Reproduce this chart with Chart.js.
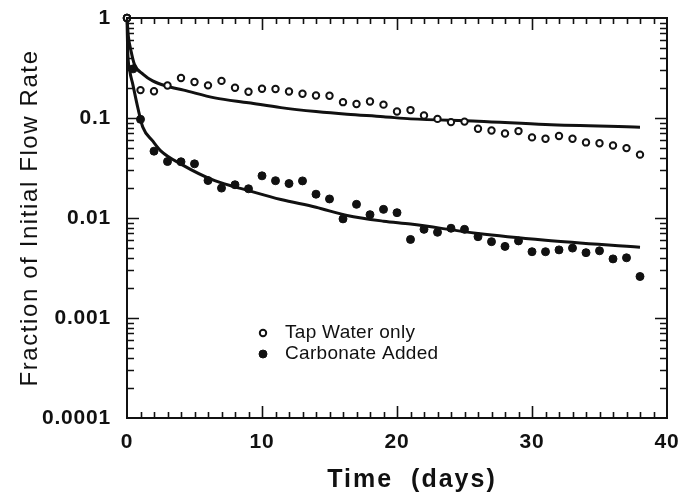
<!DOCTYPE html>
<html><head><meta charset="utf-8">
<script src="https://cdn.jsdelivr.net/npm/chart.js@4.4.1/dist/chart.umd.min.js"></script>
<style>html,body{margin:0;padding:0;background:#fff;overflow:hidden}#wrap{width:691px;height:493px}</style>
</head><body><div id="wrap"><canvas id="c" width="691" height="493"></canvas></div>
<script>
// ---- data ----
const tapDays = [0,1,2,3,4,5,6,7,8,9,10,11,12,13,14,15,16,17,18,19,20,21,22,23,24,25,26,27,28,29,30,31,32,33,34,35,36,37,38];
const tapValues = [1.0,0.190,0.185,0.211,0.251,0.229,0.212,0.235,0.201,0.183,0.196,0.195,0.184,0.175,0.168,0.167,0.144,0.138,0.146,0.136,0.116,0.120,0.106,0.098,0.091,0.092,0.078,0.075,0.070,0.074,0.064,0.062,0.066,0.062,0.057,0.056,0.053,0.050,0.043];
const carbDays = [0,0.45,1,2,3,4,5,6,7,8,9,10,11,12,13,14,15,16,17,18,19,20,21,22,23,24,25,26,27,28,29,30,31,32,33,34,35,36,37,38];
const carbValues = [1.0,0.31,0.097,0.0466,0.0367,0.0365,0.0348,0.0237,0.0199,0.0215,0.0196,0.0264,0.0236,0.0221,0.0235,0.0173,0.0155,0.0098,0.0137,0.0108,0.0122,0.0113,0.0061,0.0077,0.0072,0.0079,0.0077,0.0065,0.0058,0.0052,0.0059,0.0046,0.0046,0.0048,0.0050,0.0045,0.0047,0.0039,0.0040,0.0026];
const tapFitDays = [0,0.1,0.3,0.55,1.2,1.9,2.9,4.2,6.5,9,11.4,14,16.3,19,21,26,31,38];
const tapFitValues = [1.0,0.66,0.467,0.344,0.273,0.235,0.209,0.190,0.159,0.142,0.127,0.116,0.109,0.103,0.098,0.093,0.086,0.081];
const carbFitDays = [0,0.05,0.2,0.43,0.8,1.17,1.9,2.5,4,6.5,9,11.4,14,16.3,19,21,26,31,38];
const carbFitValues = [1.0,0.48,0.30,0.217,0.127,0.081,0.059,0.047,0.0346,0.0236,0.0188,0.0153,0.0128,0.0106,0.0093,0.0087,0.0070,0.0060,0.0051];
const xTickValues = [0,10,20,30,40];
const xTickLabels = ['0','10','20','30','40'];
const yTickValues = [1,0.1,0.01,0.001,0.0001];
const yTickLabels = ['1','0.1','0.01','0.001','0.0001'];
const seriesNames = ['Tap Water only','Carbonate Added'];
const xTitle = 'Time  (days)';
const yTitle = 'Fraction of Initial Flow Rate';

const INK = '#111';
const FONT = '"Liberation Sans", Arial, Helvetica, sans-serif';
const zip = (xs, ys) => xs.map((x, i) => ({x: x, y: ys[i]}));
const nearestIdx = (arr, v) => { let b = 0; arr.forEach((a, i) => { if (Math.abs(Math.log10(a) - Math.log10(v)) < Math.abs(Math.log10(arr[b]) - Math.log10(v))) b = i; }); return b; };

const textStyle = {
  x: {labels: '0.8px', title: '2px', titleShift: 15},
  y: {labels: '0.8px', title: '1.6px', titleShift: 0}
};
const spacing = {
  id: 'spacing',
  afterUpdate(chart) {
    Object.values(chart.scales).forEach(s => {
      if (s._spaced) return;
      s._spaced = true;
      const st = textStyle[s.id];
      const dt = s.drawTitle, dl = s.drawLabels;
      s.drawTitle = function () {
        const c = this.ctx; c.save();
        c.letterSpacing = st.title; c.translate(st.titleShift, 0);
        dt.apply(this, arguments); c.restore();
      };
      s.drawLabels = function () {
        const c = this.ctx; c.save();
        c.letterSpacing = st.labels;
        dl.apply(this, arguments); c.restore();
      };
    });
  }
};

const frameTicks = {
  id: 'frameTicks',
  afterDatasetsDraw(chart) {
    const {ctx, chartArea: a, scales: {x, y}} = chart;
    ctx.save();
    ctx.strokeStyle = INK;
    ctx.lineWidth = 2;
    ctx.strokeRect(a.left, a.top, a.right - a.left, a.bottom - a.top);
    ctx.lineWidth = 1.6;
    ctx.beginPath();
    for (let d = 1; d < 40; d++) {
      const px = Math.round(x.getPixelForValue(d)) + 0.5;
      const len = d % 10 === 0 ? 12 : 6;
      ctx.moveTo(px, a.bottom); ctx.lineTo(px, a.bottom - len);
      ctx.moveTo(px, a.top); ctx.lineTo(px, a.top + len);
    }
    for (let n = -4; n <= -1; n++) {
      for (let k = 1; k <= 9; k++) {
        if (n === -4 && k === 1) continue;
        const v = k * Math.pow(10, n);
        const py = Math.round(y.getPixelForValue(v)) + 0.5;
        const len = k === 1 ? 12 : 7;
        ctx.moveTo(a.left, py); ctx.lineTo(a.left + len, py);
        ctx.moveTo(a.right, py); ctx.lineTo(a.right - len, py);
      }
    }
    ctx.stroke();
    ctx.restore();
  }
};

const insideLegend = {
  id: 'insideLegend',
  afterDraw(chart) {
    const {ctx, chartArea: a} = chart;
    ctx.save();
    ctx.font = '19px ' + FONT;
    ctx.letterSpacing = '0.3px';
    ctx.textBaseline = 'middle';
    ctx.textAlign = 'left';
    const items = chart.data.datasets.filter(ds => ds.legendEntry);
    items.forEach((ds, i) => {
      const cx = a.left + 136, cy = a.top + 315 + i * 21;
      ctx.beginPath();
      ctx.arc(cx, cy, ds.pointRadius, 0, Math.PI * 2);
      ctx.fillStyle = ds.pointBackgroundColor;
      ctx.fill();
      ctx.lineWidth = ds.pointBorderWidth;
      ctx.strokeStyle = ds.pointBorderColor;
      ctx.stroke();
      ctx.fillStyle = INK;
      ctx.fillText(ds.label, a.left + 158, cy);
    });
    ctx.restore();
  }
};

new Chart(document.getElementById('c'), {
  type: 'line',
  data: {
    datasets: [
      {label: seriesNames[0], legendEntry: true, data: zip(tapDays, tapValues), showLine: false,
       pointRadius: 3.2, pointBorderWidth: 2, pointBackgroundColor: '#fff', pointBorderColor: INK, clip: false},
      {label: seriesNames[1], legendEntry: true, data: zip(carbDays, carbValues), showLine: false,
       pointRadius: 4, pointBorderWidth: 1, pointBackgroundColor: INK, pointBorderColor: INK, clip: false},
      {label: 'fit tap', data: zip(tapFitDays, tapFitValues), borderColor: INK, borderWidth: 3,
       pointRadius: 0, cubicInterpolationMode: 'monotone', fill: false, clip: 4},
      {label: 'fit carb', data: zip(carbFitDays, carbFitValues), borderColor: INK, borderWidth: 3,
       pointRadius: 0, cubicInterpolationMode: 'monotone', fill: false, clip: 4}
    ]
  },
  options: {
    responsive: false,
    animation: false,
    devicePixelRatio: 1,
    layout: {autoPadding: false, padding: {top: 18, right: 24, left: 0, bottom: 0}},
    plugins: {legend: {display: false}, tooltip: {enabled: false}},
    scales: {
      x: {
        type: 'linear', min: 0, max: 40,
        afterBuildTicks: s => { s.ticks = xTickValues.map(v => ({value: v})); },
        afterFit: s => { s.height = 75; s.paddingLeft = 0; s.paddingRight = 0; },
        grid: {display: false, drawTicks: false},
        border: {display: false},
        ticks: {
          autoSkip: false, maxRotation: 0, padding: 12, color: INK,
          font: {family: FONT, size: 21, weight: 'bold'},
          callback: v => xTickLabels[xTickValues.indexOf(v)]
        },
        title: {display: true, text: xTitle, color: INK, padding: {top: 0, bottom: 0},
          font: {family: FONT, size: 25, weight: 'bold', lineHeight: 1}}
      },
      y: {
        type: 'logarithmic', min: 0.0001, max: 1,
        afterBuildTicks: s => { s.ticks = yTickValues.map(v => ({value: v})); },
        afterFit: s => { s.width = 127; s.paddingTop = 0; s.paddingBottom = 0; },
        grid: {display: false, drawTicks: false},
        border: {display: false},
        ticks: {
          autoSkip: false, padding: 16, color: INK,
          font: {family: FONT, size: 21, weight: 'bold'},
          callback: v => yTickLabels[nearestIdx(yTickValues, v)]
        },
        title: {display: true, text: yTitle, color: INK, padding: {top: 18, bottom: 0},
          font: {family: FONT, size: 24, weight: 'normal', lineHeight: 1}}
      }
    }
  },
  plugins: [spacing, frameTicks, insideLegend]
});
</script></body></html>
